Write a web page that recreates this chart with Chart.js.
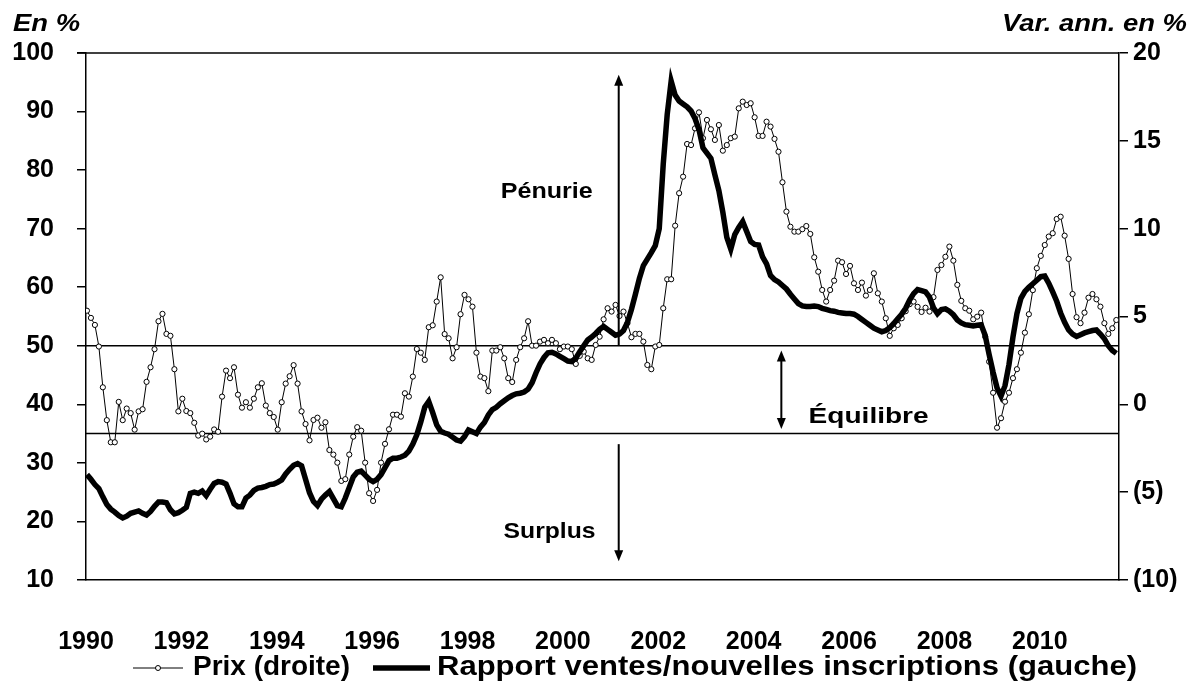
<!DOCTYPE html>
<html>
<head>
<meta charset="utf-8">
<script src="https://cdn.jsdelivr.net/npm/chart.js@4/dist/chart.umd.min.js"></script>
<style>
  html, body { margin: 0; padding: 0; background: #fff; }
</style>
</head>
<body>
<canvas id="chart" width="1199" height="690"></canvas>
<script>
// monthly series, Jan 1990 .. Aug 2011
const startYear = 1990;

// Prix, var. ann. en % (axe de droite)
const prix = [
  5.33, 4.92, 4.52, 3.29, 0.97, -0.9, -2.16, -2.16, 0.14, -0.9, -0.24, -0.5,
  -1.44, -0.4, -0.28, 1.28, 2.11, 3.14, 4.73, 5.15, 4.01, 3.9, 2.0, -0.4,
  0.32, -0.38, -0.5, -1.05, -1.78, -1.67, -2.0, -1.84, -1.43, -1.56, 0.44, 1.92,
  1.49, 2.11, 0.55, -0.19, 0.12, -0.19, 0.32, 0.97, 1.2, -0.07, -0.5, -0.72,
  -1.44, 0.12, 1.18, 1.6, 2.23, 1.18, -0.4, -1.12, -2.05, -0.89, -0.76, -1.33,
  -1.02, -2.6, -2.86, -3.32, -4.36, -4.26, -2.86, -1.84, -1.3, -1.5, -3.32, -5.06,
  -5.5, -4.87, -3.32, -2.25, -1.42, -0.59, -0.59, -0.7, 0.63, 0.44, 1.58, 3.15,
  2.94, 2.53, 4.39, 4.5, 5.85, 7.23, 4.0, 3.76, 2.62, 3.25, 5.13, 6.23,
  5.98, 5.56, 2.94, 1.58, 1.49, 0.75, 3.06, 3.06, 3.25, 2.62, 1.49, 1.27,
  2.53, 3.25, 3.76, 4.73, 3.34, 3.34, 3.57, 3.67, 3.48, 3.67, 3.48, 3.14,
  3.29, 3.29, 3.14, 2.3, 2.76, 3.0, 2.62, 2.53, 3.38, 3.85, 4.84, 5.47,
  5.28, 5.66, 5.03, 5.28, 4.62, 3.82, 4.01, 4.01, 3.57, 2.24, 2.0, 3.29,
  3.38, 5.47, 7.12, 7.12, 10.17, 12.02, 12.96, 14.82, 14.76, 15.71, 16.62, 15.15,
  16.19, 15.66, 15.05, 15.9, 14.44, 14.76, 15.15, 15.24, 16.85, 17.23, 17.04, 17.14,
  16.34, 15.28, 15.28, 16.09, 15.81, 15.11, 14.38, 12.64, 10.97, 10.11, 9.83, 9.83,
  9.97, 10.15, 9.7, 8.37, 7.55, 6.51, 5.85, 6.51, 7.04, 8.18, 8.09, 7.42,
  7.88, 6.89, 6.51, 6.93, 6.19, 6.51, 7.46, 6.32, 5.85, 4.9, 3.9, 4.33,
  4.52, 4.9, 5.3, 5.7, 5.85, 5.55, 5.26, 5.5, 5.28, 6.1, 7.65, 7.93,
  8.4, 8.98, 8.18, 6.8, 5.89, 5.47, 5.33, 4.84, 4.99, 5.22, 3.85, 2.43,
  0.66, -1.33, -0.79, 0.15, 0.66, 1.49, 2.0, 2.94, 4.08, 5.13, 6.5, 7.75,
  8.45, 9.07, 9.55, 9.74, 10.55, 10.68, 9.6, 8.28, 6.28, 4.96, 4.62, 5.22,
  6.07, 6.28, 5.98, 5.56, 4.62, 4.01, 4.33, 4.8
];

// Rapport ventes/nouvelles inscriptions, en % (axe de gauche)
const rapport = [
  28.0, 27.2, 26.3, 25.6, 24.2, 22.9, 22.1, 21.6, 21.0, 20.6, 20.9, 21.4,
  21.6, 21.8, 21.4, 21.1, 21.7, 22.6, 23.3, 23.3, 23.2, 22.0, 21.3, 21.5,
  21.9, 22.4, 24.8, 25.0, 24.8, 25.2, 24.4, 25.5, 26.5, 26.8, 26.7, 26.4,
  24.8, 23.0, 22.5, 22.5, 24.0, 24.5, 25.3, 25.7, 25.8, 26.0, 26.3, 26.4,
  26.7, 27.1, 28.1, 28.9, 29.6, 29.9, 29.5, 27.2, 24.9, 23.4, 22.7, 23.8,
  24.5, 25.1, 23.9, 22.7, 22.5, 24.0, 25.8, 27.6, 28.4, 28.6, 27.9, 27.2,
  26.8, 27.2, 28.0, 29.2, 30.4, 30.8, 30.8, 31.0, 31.3, 32.0, 33.2, 34.8,
  37.0, 39.5, 40.5, 38.6, 36.5, 35.4, 35.1, 34.9, 34.4, 33.9, 33.7, 34.5,
  35.6, 35.3, 35.0, 36.1, 36.9, 38.2, 39.1, 39.5, 40.1, 40.6, 41.1, 41.5,
  41.8, 41.9, 42.1, 42.6, 43.7, 45.4, 46.9, 48.0, 48.8, 48.9, 48.6, 48.2,
  47.8, 47.4, 47.3, 47.9, 49.0, 50.0, 51.0, 51.5, 52.1, 52.8, 53.3, 52.8,
  52.3, 51.8, 52.0, 52.6, 54.0, 56.2, 58.8, 61.5, 63.7, 64.8, 65.9, 67.1,
  70.0, 81.0, 89.5, 95.2, 92.8, 91.8, 91.3, 90.8, 90.1, 88.8, 86.9, 83.8,
  82.9, 82.0, 79.2, 76.5, 72.8, 68.5, 66.5, 69.0, 70.2, 71.2, 69.5, 67.8,
  67.3, 67.2, 65.2, 64.0, 62.0, 61.3, 60.9, 60.3, 59.7, 58.8, 58.0, 57.2,
  56.8, 56.7, 56.7, 56.8, 56.7, 56.4, 56.2, 56.0, 55.9, 55.7, 55.6, 55.5,
  55.5, 55.4, 55.0, 54.5, 54.0, 53.5, 53.0, 52.7, 52.4, 52.6, 53.1, 53.8,
  54.6, 55.4, 56.4, 57.8, 58.9, 59.6, 59.4, 59.2, 58.3, 56.5, 55.5, 56.2,
  56.3, 55.9, 55.3, 54.4, 53.9, 53.6, 53.5, 53.4, 53.5, 53.6, 51.8, 48.5,
  45.5, 42.8, 41.4, 43.2, 46.8, 51.5, 55.5, 58.1, 59.3, 60.0, 60.6, 61.2,
  61.8, 61.9, 60.7, 59.2, 57.6, 55.6, 54.0, 52.7, 52.0, 51.6, 51.9, 52.2,
  52.4, 52.6, 52.7, 52.0, 51.2, 50.0, 49.2, 48.7
];

const xTickYears = [1990, 1992, 1994, 1996, 1998, 2000, 2002, 2004, 2006, 2008, 2010];
const seuilPenurie = 50;
const seuilSurplus = 35;

const months = prix.map((_, i) => startYear + i / 12 + 0.02);
const xMin = 1990, xMax = 2011.66;

const FONT = '"Liberation Sans", Arial, sans-serif';
const tickFont = { family: FONT, size: 25, weight: 'bold' };

const ptsPrix = months.map((x, i) => ({ x, y: prix[i] }));
const ptsRapport = months.map((x, i) => ({ x, y: rapport[i] }));

// text drawn to a given width (the source chart's lettering is a bit wide)
function wideText(ctx, text, x, y, width, align) {
  const w = ctx.measureText(text).width;
  const k = width / w;
  let x0 = x;
  if (align === 'center') x0 = x - width / 2;
  else if (align === 'right') x0 = x - width;
  ctx.save();
  ctx.textAlign = 'left';
  ctx.translate(x0, y);
  ctx.scale(k, 1);
  ctx.fillText(text, 0, 0);
  ctx.restore();
}

function arrow(ctx, x, y1, y2, head1, head2) {
  ctx.save();
  ctx.strokeStyle = '#000';
  ctx.fillStyle = '#000';
  ctx.lineWidth = 2;
  ctx.beginPath();
  ctx.moveTo(x, y1 + (head1 ? 8 : 0));
  ctx.lineTo(x, y2 - (head2 ? 8 : 0));
  ctx.stroke();
  if (head1) {
    ctx.beginPath();
    ctx.moveTo(x, y1); ctx.lineTo(x - 4.5, y1 + 11); ctx.lineTo(x + 4.5, y1 + 11); ctx.closePath(); ctx.fill();
  }
  if (head2) {
    ctx.beginPath();
    ctx.moveTo(x, y2); ctx.lineTo(x - 4.5, y2 - 11); ctx.lineTo(x + 4.5, y2 - 11); ctx.closePath(); ctx.fill();
  }
  ctx.restore();
}

const extras = {
  id: 'extras',
  afterDatasetsDraw(chart) {
    const { ctx, chartArea, scales } = chart;
    const sx = scales.x, sy = scales.y;
    // top frame line
    ctx.save();
    ctx.strokeStyle = '#000';
    ctx.lineWidth = 1.5;
    ctx.beginPath();
    ctx.moveTo(chartArea.left - 9, chartArea.top);
    ctx.lineTo(chartArea.right, chartArea.top);
    ctx.stroke();
    ctx.restore();

    // zone arrows
    const xa = sx.getPixelForValue(2001.17);
    arrow(ctx, xa, sy.getPixelForValue(96.3), sy.getPixelForValue(50), true, false);
    arrow(ctx, xa, sy.getPixelForValue(33.2), sy.getPixelForValue(13.2), false, true);
    const xe = sx.getPixelForValue(2004.58);
    arrow(ctx, xe, sy.getPixelForValue(49.2), sy.getPixelForValue(35.8), true, true);

    ctx.save();
    ctx.fillStyle = '#000';
    ctx.font = 'bold 22px ' + FONT;
    ctx.textBaseline = 'middle';
    wideText(ctx, 'Pénurie', sx.getPixelForValue(1999.66), sy.getPixelForValue(76.2), 92, 'center');
    wideText(ctx, 'Surplus', sx.getPixelForValue(1999.72), sy.getPixelForValue(18.2), 92, 'center');
    wideText(ctx, 'Équilibre', sx.getPixelForValue(2006.41), sy.getPixelForValue(37.9), 120, 'center');
    ctx.restore();
  },
  afterDraw(chart) {
    const { ctx } = chart;
    ctx.save();
    ctx.fillStyle = '#000';
    ctx.textBaseline = 'middle';
    ctx.font = 'italic bold 24px ' + FONT;
    wideText(ctx, 'En %', 13, 24, 67, 'left');
    wideText(ctx, 'Var. ann. en %', 1187, 24, 185, 'right');

    // legend
    const ly = 668;
    ctx.strokeStyle = '#000';
    ctx.lineWidth = 1;
    ctx.beginPath(); ctx.moveTo(133, ly); ctx.lineTo(183, ly); ctx.stroke();
    ctx.beginPath(); ctx.arc(158, ly, 2.5, 0, Math.PI * 2);
    ctx.fillStyle = '#fff'; ctx.fill(); ctx.stroke();
    ctx.lineWidth = 5.5;
    ctx.beginPath(); ctx.moveTo(373, ly); ctx.lineTo(430, ly); ctx.stroke();
    ctx.fillStyle = '#000';
    ctx.font = 'bold 27px ' + FONT;
    wideText(ctx, 'Prix (droite)', 193, ly, 157, 'left');
    wideText(ctx, 'Rapport ventes/nouvelles inscriptions (gauche)', 437, ly, 700, 'left');
    ctx.restore();
  }
};

new Chart(document.getElementById('chart'), {
  type: 'line',
  data: {
    datasets: [
      {
        label: 'Rapport ventes/nouvelles inscriptions (gauche)',
        data: ptsRapport,
        yAxisID: 'y',
        borderColor: '#000',
        borderWidth: 5.5,
        pointRadius: 0,
        tension: 0,
        order: 0
      },
      {
        label: 'Prix (droite)',
        data: ptsPrix,
        yAxisID: 'y2',
        borderColor: '#000',
        borderWidth: 1,
        pointRadius: 2.6,
        pointBorderWidth: 1,
        pointBackgroundColor: '#fff',
        pointBorderColor: '#000',
        tension: 0,
        order: 1
      },
      {
        label: 'seuil50',
        data: [{ x: xMin, y: seuilPenurie }, { x: xMax, y: seuilPenurie }],
        yAxisID: 'y',
        borderColor: '#000',
        borderWidth: 1.5,
        pointRadius: 0,
        order: 2
      },
      {
        label: 'seuil35',
        data: [{ x: xMin, y: seuilSurplus }, { x: xMax, y: seuilSurplus }],
        yAxisID: 'y',
        borderColor: '#000',
        borderWidth: 1.5,
        pointRadius: 0,
        order: 2
      }
    ]
  },
  options: {
    responsive: false,
    animation: false,
    devicePixelRatio: 1,
    layout: { padding: { top: 53, left: 0, right: 0, bottom: 0 } },
    plugins: { legend: { display: false }, tooltip: { enabled: false } },
    scales: {
      x: {
        type: 'linear',
        min: xMin,
        max: xMax,
        afterBuildTicks: s => { s.ticks = xTickYears.map(v => ({ value: v })); },
        afterFit: s => { s.height = 110; },
        ticks: { font: tickFont, color: '#000', padding: 39, maxRotation: 0, autoSkip: false, callback: v => String(v) },
        grid: { display: false },
        border: { display: true, color: '#000', width: 1.5 }
      },
      y: {
        position: 'left',
        min: 10,
        max: 100,
        afterFit: s => { s.width = 86; },
        ticks: { stepSize: 10, font: tickFont, color: '#000', padding: 23 },
        grid: { drawOnChartArea: false, drawTicks: true, tickLength: 9, color: '#000', lineWidth: 1.5 },
        border: { display: true, color: '#000', width: 1.5 }
      },
      y2: {
        position: 'right',
        min: -10,
        max: 20,
        afterFit: s => { s.width = 80; },
        ticks: { stepSize: 5, font: tickFont, color: '#000', padding: 5, callback: v => v < 0 ? '(' + (-v) + ')' : String(v) },
        grid: { drawOnChartArea: false, drawTicks: true, tickLength: 9, color: '#000', lineWidth: 1.5 },
        border: { display: true, color: '#000', width: 1.5 }
      }
    }
  },
  plugins: [extras]
});
</script>
</body>
</html>
